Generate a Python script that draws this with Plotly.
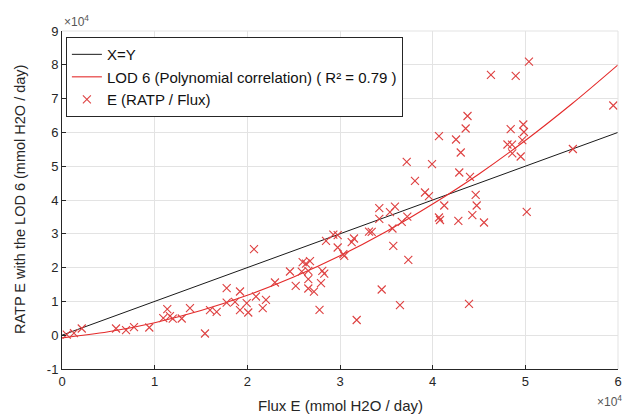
import plotly.graph_objects as go

# Scatter: Flux E (x) vs RATP E with LOD 6 (y), mmol H2O / day
flux_e = [510, 1290, 2130, 5830, 6910, 7770, 9420, 10930, 11360, 11650, 11950, 12920, 13810,
          15430, 15970, 16690, 17770, 17770, 18670, 19210, 19210, 19930, 20100, 20720, 20930,
          21660, 22010, 22980, 24600, 25220,
          25970, 26330, 26760, 25870, 26580, 28090, 28300, 26580, 27950, 26580, 27190, 27790,
          28490, 29280, 29750, 29750, 30360, 30460, 31260, 31510, 33130, 33420, 35660, 34240,
          35930, 35390, 34240, 37260, 36660, 35750, 37370, 34500, 36470, 31800, 37200, 38090,
          39930, 39170, 39600, 41250, 40680, 40790, 42770, 44280, 45540, 44750, 44640, 42870,
          44030, 42520, 43030, 40680, 43560, 43760, 46290, 48960, 50390, 48420, 49780, 49850,
          48070, 48560, 49670, 48590, 49500, 50150, 43920, 55130, 59490]
ratp_e = [150, 590, 1980, 1980, 1480, 2370, 2280, 5030, 7690, 5620, 4880, 4940, 7990,
          500, 7400, 6890, 13910, 9670, 9850, 12930, 7400, 9470, 6720, 25440, 11450,
          7990, 10440, 15590, 18850, 14590,
          21600, 21150, 21890, 18790, 19020, 19020, 18250, 16570, 15380, 13820, 12870, 7490,
          27900, 29730, 29590, 25950, 23960, 23460, 27510, 28610, 30620, 30560, 31570, 37570,
          38020, 36390, 34410, 35060, 33520, 26420, 22280, 13520, 8880, 4500, 51270, 45650,
          50590, 42220, 41120, 38370, 34820, 34080, 33820, 35500, 33340, 38370, 41510, 48140,
          46830, 57900, 54050, 58930, 61150, 64850, 77010, 76720, 80920, 60950, 62340, 60120,
          56420, 56360, 57690, 53790, 52870, 36480, 9260, 55090, 67960]

# LOD 6 polynomial correlation curve
lod_x = [0, 5000, 10000, 15000, 20000, 25000, 30000, 35000, 40000, 45000, 50000, 55000, 60000]
lod_y = [-800, 1000, 3700, 7300, 11800, 17200, 23500, 30700, 38800, 47700, 57600, 68400, 80000]

# X=Y reference line
xy_x = [0, 60000]
xy_y = [0, 60000]

x_ticks = [0, 10000, 20000, 30000, 40000, 50000, 60000]
x_labels = ["0", "1", "2", "3", "4", "5", "6"]
y_ticks = [-10000, 0, 10000, 20000, 30000, 40000, 50000, 60000, 70000, 80000, 90000]
y_labels = ["-1", "0", "1", "2", "3", "4", "5", "6", "7", "8", "9"]

FONT = "Liberation Sans, Arial, sans-serif"
RED_LINE = "rgb(228,42,42)"
RED_MARK = "rgb(222,64,64)"
TXT = "#262626"

fig = go.Figure()
fig.add_trace(go.Scatter(x=xy_x, y=xy_y, mode="lines", name="X=Y",
                         line=dict(color="#1a1a1a", width=1)))
fig.add_trace(go.Scatter(x=lod_x, y=lod_y, mode="lines",
                         name="LOD 6 (Polynomial correlation) ( R² = 0.79 )",
                         line=dict(color=RED_LINE, width=1.1, shape="spline")))
fig.add_trace(go.Scatter(x=flux_e, y=ratp_e, mode="markers", name="E (RATP / Flux)",
                         marker=dict(symbol="x-thin", size=8,
                                     line=dict(color=RED_MARK, width=1.1))))

fig.update_layout(
    width=628, height=414,
    margin=dict(l=62, r=10, t=31, b=45, autoexpand=False),
    paper_bgcolor="white", plot_bgcolor="white",
    font=dict(family=FONT, color=TXT, size=12),
    showlegend=True,
    legend=dict(x=0.007, y=0.982, xanchor="left", yanchor="top",
                bgcolor="white", bordercolor="#262626", borderwidth=1,
                font=dict(family=FONT, size=15, color="#111111"),
                tracegroupgap=0, itemwidth=30),
    xaxis=dict(range=[0, 60000], tickvals=x_ticks, ticktext=x_labels, automargin=False,
               showgrid=True, gridcolor="#e3e3e3", gridwidth=1,
               showline=True, linecolor="#262626", linewidth=1,
               ticks="inside", ticklen=4, tickcolor="#262626",
               zeroline=False, tickfont=dict(size=13, color=TXT)),
    yaxis=dict(range=[-10000, 90000], tickvals=y_ticks, ticktext=y_labels, automargin=False,
               showgrid=True, gridcolor="#e3e3e3", gridwidth=1,
               showline=True, linecolor="#262626", linewidth=1,
               ticks="inside", ticklen=4, tickcolor="#262626",
               zeroline=False, tickfont=dict(size=13, color=TXT)),
)

# right and top light frame lines
fig.add_shape(type="line", xref="paper", yref="paper", x0=1, x1=1, y0=0, y1=1,
              line=dict(color="#e3e3e3", width=1))
fig.add_shape(type="line", xref="paper", yref="paper", x0=0, x1=1, y0=1, y1=1,
              line=dict(color="#e3e3e3", width=1))

# axis titles
fig.add_annotation(xref="paper", yref="paper", x=0.5, y=0, xanchor="center", yanchor="middle",
                   yshift=-36, text="Flux E (mmol H2O / day)", showarrow=False,
                   font=dict(size=15, color=TXT))
fig.add_annotation(xref="paper", yref="paper", x=0, y=0.5, xanchor="center", yanchor="middle",
                   xshift=-42, textangle=-90, text="RATP E with the LOD 6 (mmol H2O / day)",
                   showarrow=False, font=dict(size=14.5, color=TXT))

# exponent labels
fig.add_annotation(xref="paper", yref="paper", x=0.0, y=1.0, xanchor="left", yanchor="bottom",
                   text="×10<sup>4</sup>", showarrow=False, font=dict(size=12, color="#555555"),
                   yshift=0)
fig.add_annotation(xref="paper", yref="paper", x=1.0, y=0, xanchor="right", yanchor="top",
                   text="×10<sup>4</sup>", showarrow=False, font=dict(size=12, color="#555555"),
                   yshift=-22, xshift=6)

fig.write_html("out.html", config={"displayModeBar": False},
               post_script="document.body.style.margin='0';document.body.style.overflow='hidden';")
